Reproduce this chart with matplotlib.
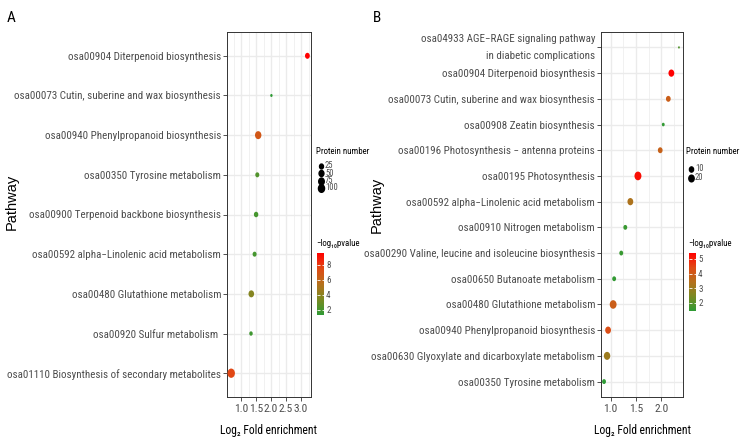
import numpy as np
import matplotlib
matplotlib.use('Agg')
import matplotlib.pyplot as plt
from matplotlib.colors import LinearSegmentedColormap, Normalize
from matplotlib.lines import Line2D
from matplotlib.path import Path
from matplotlib.transforms import Affine2D
from matplotlib.ticker import MultipleLocator, FormatStrFormatter

plt.rcParams['font.family'] = ['Roboto Condensed', 'DejaVu Sans']

# ---- panel A data (top to bottom) ----
names_a = ["osa00904 Diterpenoid biosynthesis",
           "osa00073 Cutin, suberine and wax biosynthesis",
           "osa00940 Phenylpropanoid biosynthesis",
           "osa00350 Tyrosine metabolism",
           "osa00900 Terpenoid backbone biosynthesis",
           "osa00592 alpha\u2212Linolenic acid metabolism",
           "osa00480 Glutathione metabolism",
           "osa00920 Sulfur metabolism ",
           "osa01110 Biosynthesis of secondary metabolites"]
fold_a = [3.21, 2.01, 1.57, 1.54, 1.50, 1.45, 1.34, 1.33, 0.67]
count_a = [28, 4, 71, 15, 21, 15, 47, 9, 110]
logp_a = [9.6, 1.35, 6.8, 2.3, 2.0, 2.0, 3.8, 1.8, 7.6]
size_breaks_a = [25, 50, 75, 100]
color_ticks_a = [2, 4, 6, 8]

# ---- panel B data (top to bottom) ----
names_b = ["osa04933 AGE\u2212RAGE signaling pathway\nin diabetic complications",
           "osa00904 Diterpenoid biosynthesis",
           "osa00073 Cutin, suberine and wax biosynthesis",
           "osa00908 Zeatin biosynthesis",
           "osa00196 Photosynthesis \u2212 antenna proteins",
           "osa00195 Photosynthesis",
           "osa00592 alpha\u2212Linolenic acid metabolism",
           "osa00910 Nitrogen metabolism",
           "osa00290 Valine, leucine and isoleucine biosynthesis",
           "osa00650 Butanoate metabolism",
           "osa00480 Glutathione metabolism",
           "osa00940 Phenylpropanoid biosynthesis",
           "osa00630 Glyoxylate and dicarboxylate metabolism",
           "osa00350 Tyrosine metabolism"]
fold_b = [2.35, 2.20, 2.14, 2.04, 1.98, 1.54, 1.39, 1.29, 1.21, 1.07, 1.05, 0.95, 0.93, 0.87]
count_b = [1, 16, 9, 2, 9, 26, 16, 5, 5, 5, 25, 16, 21, 5]
logp_b = [1.9, 5.4, 3.9, 1.5, 3.8, 5.2, 3.3, 1.6, 1.6, 1.5, 3.9, 4.3, 3.0, 1.45]
size_breaks_b = [10, 20]
color_ticks_b = [2, 3, 4, 5]

cmap = LinearSegmentedColormap.from_list(
    'gr', ['#2E9B35', '#7A8A22', '#B5701C', '#E04A15', '#FF0000'])

# slightly squeezed dots like the original export
ell = Path.unit_circle().transformed(Affine2D().scale(0.8, 1.0))

TXT = '#4D4D4D'
EDGE = '#333333'
W, H = 747.0, 447.0


def dot_pt(v, vmin, vmax, dmin, dmax):
    # ggplot-like size scale: diameter (px) -> points
    v = np.asarray(v, dtype=float)
    d = dmin + (dmax - dmin) * np.sqrt((v - vmin) / (vmax - vmin))
    return d * 0.72


def panel(fig, rect, names, fold, count, logp, xlim, size_args,
          size_breaks, color_ticks, crange, cax_rect, leg, lab, letter):
    ax = fig.add_axes([rect[0] / W, 1 - rect[3] / H, (rect[2] - rect[0]) / W,
                       (rect[3] - rect[1]) / H])
    n = len(names)
    y = np.arange(n)
    norm = Normalize(*crange)
    sc = ax.scatter(fold, y, s=dot_pt(count, *size_args) ** 2, c=logp,
                    cmap=cmap, norm=norm, marker=ell, linewidths=0, zorder=3)
    ax.set_ylim(n - 1 + 0.6, -0.6)
    ax.set_xlim(*xlim)
    ax.set_yticks(y)
    ax.set_yticklabels(names, fontsize=7.9, color=TXT)
    for t in ax.get_yticklabels():
        if '\n' in t.get_text():
            t.set_linespacing(1.9)
            t.set_va('center')
    ax.xaxis.set_major_locator(MultipleLocator(0.5))
    ax.xaxis.set_minor_locator(MultipleLocator(0.25))
    ax.xaxis.set_major_formatter(FormatStrFormatter('%.1f'))
    ax.tick_params(axis='x', labelsize=8.2, labelcolor=TXT, pad=2.5)
    ax.tick_params(which='major', length=2.75, width=0.6, color=EDGE)
    ax.tick_params(axis='y', pad=1.5)
    ax.tick_params(which='minor', length=0)
    ax.grid(which='major', color='#EBEBEB', lw=1.0)
    ax.grid(which='minor', axis='x', color='#EBEBEB', lw=0.5)
    ax.set_axisbelow(True)
    for s in ax.spines.values():
        s.set_color(EDGE)
        s.set_linewidth(0.7)
    ax.set_xlabel('Log\u2082 Fold enrichment', fontsize=8.4, labelpad=7)

    # size legend (ggplot style, drawn by hand)
    lx, ly, dy = leg
    fig.text(lx / W, 1 - 152 / H, 'Protein number', fontsize=6.3,
             ha='left', va='center')
    for i, b in enumerate(size_breaks):
        yy = 1 - (ly + i * dy) / H
        fig.add_artist(Line2D([(lx + 4.5) / W], [yy], ls='none', marker=ell,
                              color='black', markersize=float(dot_pt(b, *size_args)) * 0.85,
                              transform=fig.transFigure))
        fig.text((lx + 9) / W, yy, str(b), fontsize=6.2, color=TXT,
                 ha='left', va='center')

    # colour bar
    cx, ctop, cbot = cax_rect
    cax = fig.add_axes([cx / W, 1 - cbot / H, 7 / W, (cbot - ctop) / H])
    cb = fig.colorbar(sc, cax=cax, ticks=color_ticks)
    cb.outline.set_visible(False)
    cax.tick_params(direction='in', color='white', length=1.8, width=0.6,
                    left=True, right=True, labelsize=6.5, labelcolor=TXT, pad=1.5)
    fig.text((cx - 1) / W, 1 - 244 / H, '\u2212log\u2081\u2080pvalue',
             fontsize=6.3, va='center', ha='left')

    fig.text(lab[0] / W, 1 - lab[1] / H, 'Pathway', rotation=90,
             fontsize=10.5, family=['Liberation Sans', 'DejaVu Sans'],
             ha='center', va='center')
    fig.text(letter[0] / W, 1 - letter[1] / H, letter[2], fontsize=11,
             ha='center', va='center')
    return ax


fig = plt.figure(figsize=(7.47, 4.47), dpi=100)

panel(fig, (227, 32, 311, 397), names_a, fold_a, count_a, logp_a,
      (0.53, 3.33), (4, 110, 3.0, 9.3), size_breaks_a, color_ticks_a, (1.33, 9.6),
      (317, 253, 315), (316, 166, 7.3), (12, 202), (11, 18, 'A'))

panel(fig, (601, 32, 683, 397), names_b, fold_b, count_b, logp_b,
      (0.81, 2.43), (1, 26, 2.3, 8.7), size_breaks_b, color_ticks_b, (1.45, 5.4),
      (689, 253, 311), (686, 169, 9), (377, 205), (377, 18, 'B'))

fig.savefig('out.png', dpi=100)
